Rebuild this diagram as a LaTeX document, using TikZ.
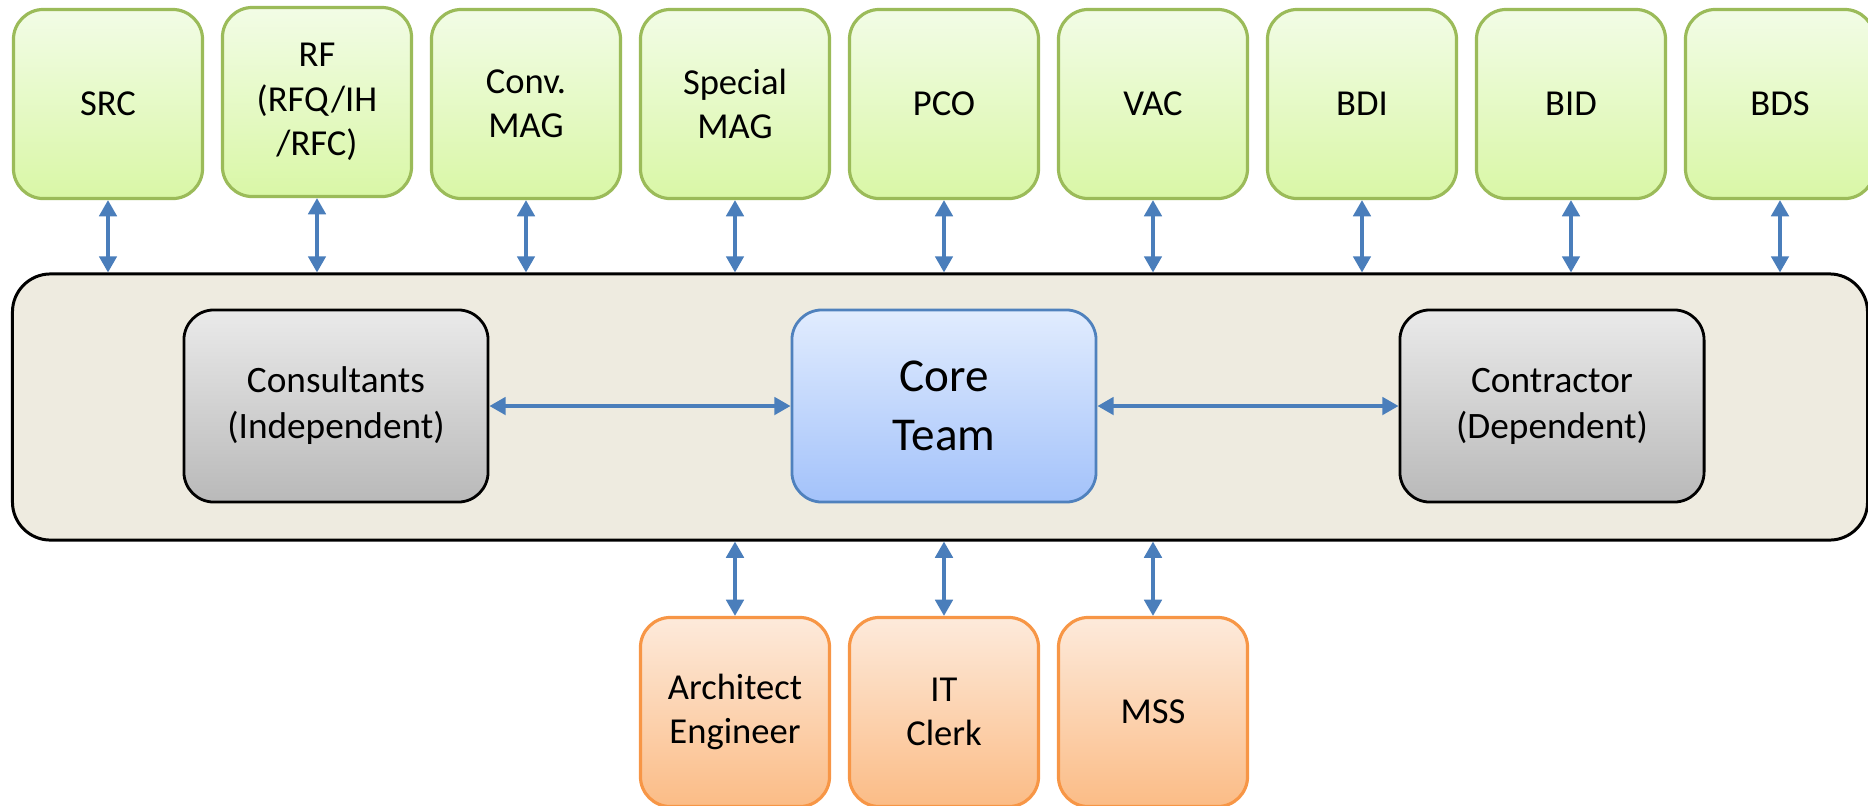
\documentclass[tikz,border=0pt]{standalone}
\usepackage{fontspec}
\setmainfont{Carlito}
\usetikzlibrary{arrows.meta}

\definecolor{grTop}{HTML}{F2FCE6}
\definecolor{grBot}{HTML}{D9F7A6}
\definecolor{grLine}{HTML}{9BBB59}
\definecolor{gyTop}{HTML}{EAEAEA}
\definecolor{gyBot}{HTML}{B9B9B9}
\definecolor{blTop}{HTML}{E1ECFE}
\definecolor{blBot}{HTML}{A3C2FA}
\definecolor{blLine}{HTML}{4F81BD}
\definecolor{orTop}{HTML}{FDEADB}
\definecolor{orBot}{HTML}{FBBC86}
\definecolor{orLine}{HTML}{F79646}
\definecolor{tanFill}{HTML}{EEEBE0}
\definecolor{arrowBlue}{HTML}{4A7EBB}

\tikzset{
  unitbox/.style={rounded corners=0.3cm, inner sep=0pt, align=center,
    font=\fontsize{10.4pt}{12.6pt}\selectfont},
  groupbox/.style={unitbox, minimum width=1.89cm, minimum height=1.89cm,
    draw=grLine, line width=0.9pt, top color=grTop, bottom color=grBot},
  supportbox/.style={unitbox, minimum width=1.89cm, minimum height=1.89cm,
    draw=orLine, line width=0.9pt, top color=orTop, bottom color=orBot},
  sidebox/.style={unitbox, minimum width=3.04cm, minimum height=1.92cm,
    draw=black, line width=0.8pt, top color=gyTop, bottom color=gyBot,
    font=\fontsize{10.6pt}{13.1pt}\selectfont},
  corebox/.style={unitbox, minimum width=3.04cm, minimum height=1.92cm,
    draw=blLine, line width=0.8pt, top color=blTop, bottom color=blBot,
    font=\fontsize{13.4pt}{16.6pt}\selectfont},
  container/.style={draw=black, line width=0.85pt, fill=tanFill,
    rounded corners=0.38cm, minimum width=18.54cm, minimum height=2.66cm,
    inner sep=0pt},
  link/.style={draw=arrowBlue, line width=0.9pt,
    {Triangle[length=4.6pt,width=5pt]}-{Triangle[length=4.6pt,width=5pt]}}
}

\begin{document}
\begin{tikzpicture}[x=0.01cm, y=-0.01cm]
  \useasboundingbox (0,0) rectangle (1868,805);
  \clip (0,0) rectangle (1868,805);

  % central team area
  \node[container] (team) at (940,407) {};

  % work packages along the top
  \node[groupbox] (src)  at (108,104)  {SRC};
  \node[groupbox] (rf)   at (317,102)  {RF\\(RFQ/IH\\/RFC)};
  \node[groupbox] (cmag) at (526,104)  {Conv.\\MAG};
  \node[groupbox] (smag) at (735,104)  {Special\\MAG};
  \node[groupbox] (pco)  at (944,104)  {PCO};
  \node[groupbox] (vac)  at (1153,104) {VAC};
  \node[groupbox] (bdi)  at (1362,104) {BDI};
  \node[groupbox] (bid)  at (1571,104) {BID};
  \node[groupbox] (bds)  at (1780,104) {BDS};

  % inner units
  \node[sidebox] (cons) at (336,406)  {Consultants\\(Independent)};
  \node[corebox] (core) at (944,406)  {Core\\Team};
  \node[sidebox] (contr) at (1552,406) {Contractor\\(Dependent)};

  % support services below
  \node[supportbox] (arch) at (735,712)  {Architect\\Engineer};
  \node[supportbox] (it)   at (944,712)  {IT\\Clerk};
  \node[supportbox] (mss)  at (1153,712) {MSS};

  % links between the work packages and the team area
  \foreach \g in {src,rf,cmag,smag,pco,vac,bdi,bid,bds}
    \draw[link] (\g.south) -- (\g.south |- team.north);

  % links inside the team area
  \draw[link] (cons.east) -- (core.west);
  \draw[link] (core.east) -- (contr.west);

  % links to the support services
  \foreach \s in {arch,it,mss}
    \draw[link] (\s.north |- team.south) -- (\s.north);
\end{tikzpicture}
\end{document}
